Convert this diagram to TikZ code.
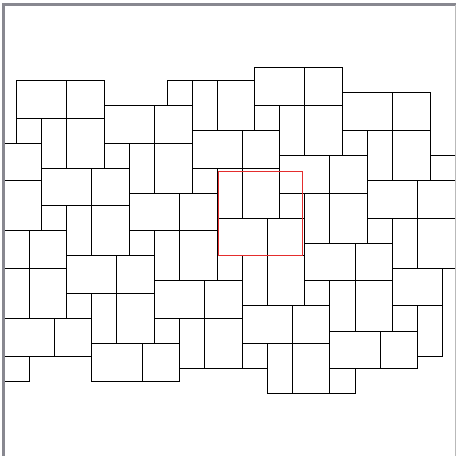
\documentclass[tikz,border=0pt]{standalone}
\usepackage{tikz}
\definecolor{framegray}{RGB}{136,136,144}
\definecolor{edgegray}{RGB}{185,185,185}
\definecolor{cellred}{RGB}{228,45,45}
\begin{document}
\begin{tikzpicture}[x=12.53pt, y=-12.53pt,
    tile/.style={draw=black, line width=0.9pt},
    cell/.style={draw=cellred, line width=0.9pt},
    border/.style={draw=framegray, line width=2.4pt}]
    \useasboundingbox (-1.333,-6.417) rectangle (35.06,29.98);

    \begin{scope}
        \clip (-1.04,-6.1) rectangle (36,31);
        % lattice (7,2) and (2,7)
        \foreach \i/\j in {0/0,1/0,2/0,3/0,4/0,-1/1,0/1,1/1,2/1,3/1,3/-1,4/-1,-1/2,0/2,1/2,2/2,4/1,3/2,-1/3,0/3}
            \draw[tile, shift={(7*\i+2*\j,2*\i+7*\j)}] (0,0) rectangle (4,3);
        \foreach \i/\j in {0/0,1/0,2/0,3/0,4/0,-1/1,0/1,1/1,2/1,3/1,3/-1,4/-1,-1/2,0/2,1/2,2/2,3/2,-1/3,0/3}
            \draw[tile, shift={(7*\i+2*\j,2*\i+7*\j)}] (4,0) rectangle (7,3);
        \foreach \i/\j in {0/0,1/0,2/0,3/0,4/0,-1/1,0/1,1/1,2/1,3/1,3/-1,4/-1,-1/2,0/2,1/2,2/2,2/-1,5/-1,4/1,3/2,-1/3}
            \draw[tile, shift={(7*\i+2*\j,2*\i+7*\j)}] (0,3) rectangle (2,5);
        \foreach \i/\j in {0/0,1/0,2/0,3/0,4/0,-1/1,0/1,1/1,2/1,3/1,3/-1,4/-1,-1/2,0/2,1/2,2/2,2/-1,4/1}
            \draw[tile, shift={(7*\i+2*\j,2*\i+7*\j)}] (2,3) rectangle (4,7);
        \foreach \i/\j in {0/0,1/0,2/0,3/0,4/0,-1/1,0/1,1/1,2/1,3/1,3/-1,4/-1,-1/2,0/2,1/2,2/2,2/-1}
            \draw[tile, shift={(7*\i+2*\j,2*\i+7*\j)}] (4,3) rectangle (7,7);
    \end{scope}

    % fundamental square
    \draw[cell] (16.1,7.25) rectangle ++(6.7,6.7);

    % window edges
    \coordinate (tl) at (-1.04,-6.05);
    \coordinate (tr) at (35.0,-6.05);
    \coordinate (bl) at (-1.04,29.98);
    \coordinate (br) at (35.0,29.98);
    \draw[border] (bl) -- (tl) -- ([xshift=1pt]tr);
    \draw[edgegray, line width=0.8pt] (tr) -- (br);
\end{tikzpicture}
\end{document}
